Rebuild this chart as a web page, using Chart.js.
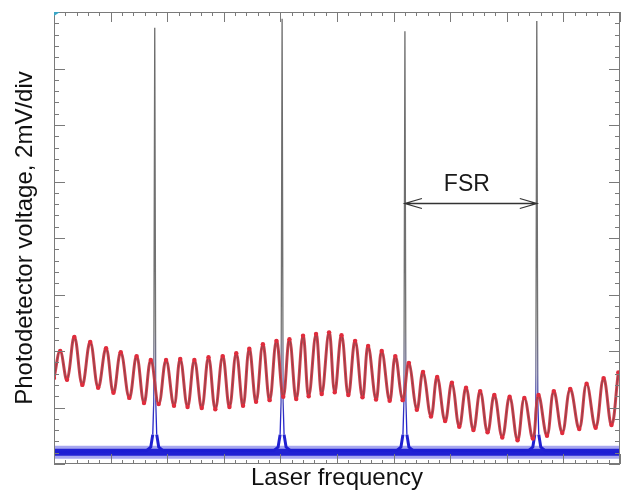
<!DOCTYPE html>
<html>
<head>
<meta charset="utf-8">
<script src="https://cdn.jsdelivr.net/npm/chart.js@4.4.1/dist/chart.umd.min.js"></script>
<style>
  html, body { margin: 0; padding: 0; background: #fff; }
  #wrap { width: 624px; height: 493px; }
</style>
</head>
<body>
<div id="wrap"><canvas id="scan"></canvas></div>
<script>
// x in horizontal divisions (0..10), y in vertical divisions of 2 mV (0..8)

// red trace: at its peaks and troughs
const redX = [0.00, 0.11, 0.23, 0.36, 0.50, 0.64, 0.78, 0.92, 1.05, 1.18,
              1.33, 1.46, 1.59, 1.71, 1.85, 1.98, 2.12, 2.23, 2.36, 2.48,
              2.61, 2.73, 2.85, 2.98, 3.10, 3.22, 3.34, 3.45, 3.57, 3.69,
              3.81, 3.93, 4.05, 4.16, 4.28, 4.40, 4.50, 4.63, 4.73, 4.86,
              4.96, 5.08, 5.20, 5.32, 5.45, 5.55, 5.69, 5.79, 5.93, 6.03,
              6.16, 6.27, 6.41, 6.52, 6.66, 6.77, 6.91, 7.03, 7.16, 7.28,
              7.41, 7.53, 7.66, 7.78, 7.92, 8.05, 8.19, 8.31, 8.46, 8.56,
              8.71, 8.83, 8.98, 9.12, 9.28, 9.41, 9.57, 9.71, 9.85, 9.97];
const redY = [1.52, 2.00, 1.49, 2.25, 1.40, 2.16, 1.35, 2.05, 1.26, 1.98,
              1.17, 1.91, 1.08, 1.84, 1.06, 1.84, 1.03, 1.86, 1.01, 1.84,
              0.99, 1.89, 0.97, 1.91, 1.01, 1.96, 1.03, 2.04, 1.10, 2.12,
              1.13, 2.18, 1.19, 2.21, 1.15, 2.27, 1.20, 2.30, 1.24, 2.33,
              1.27, 2.28, 1.22, 2.18, 1.18, 2.09, 1.14, 2.00, 1.12, 1.91,
              1.13, 1.79, 0.96, 1.63, 0.84, 1.54, 0.76, 1.44, 0.66, 1.35,
              0.60, 1.29, 0.56, 1.22, 0.47, 1.19, 0.42, 1.17, 0.45, 1.22,
              0.50, 1.29, 0.55, 1.33, 0.62, 1.42, 0.64, 1.52, 0.69, 1.62];

// blue trace: flat noisy floor with four transmission peaks
const baseLevel = 0.21;
const peakX = [1.78, 4.03, 6.20, 8.53];
const peakTop = [7.72, 7.88, 7.66, 7.84];
const skirtDx = [-0.14, -0.07, -0.035, -0.018, 0.018, 0.035, 0.07, 0.14];
const skirtY = [0.24, 0.30, 0.52, 1.10, 1.10, 0.52, 0.30, 0.24];

// FSR marker, between the third and fourth peak
const fsrLevel = 4.62;
const fsrTextLevel = 4.94;

const FONT = "'Liberation Sans', Arial, sans-serif";

function bluePoints() {
  const pts = [{ x: 0, y: baseLevel }];
  peakX.forEach((px, i) => {
    skirtDx.forEach((dx, k) => {
      if (k === skirtDx.length / 2) pts.push({ x: px, y: peakTop[i] });
      pts.push({ x: px + dx, y: skirtY[k] });
    });
  });
  pts.push({ x: 10, y: baseLevel });
  return pts;
}

const redPoints = redX.map((x, i) => ({ x: x, y: redY[i] }));
const floorPoints = [{ x: 0, y: baseLevel }, { x: 10, y: baseLevel }];

function peakColor(ctx) {
  const chart = ctx.chart;
  const a = chart.chartArea;
  if (!a) return '#2020c8';
  const g = chart.ctx.createLinearGradient(0, a.bottom, 0, a.top);
  g.addColorStop(0, '#1818d8');
  g.addColorStop(0.1, '#2828c8');
  g.addColorStop(0.2, '#6a6a9a');
  g.addColorStop(0.3, '#747474');
  g.addColorStop(1, '#6a6a6a');
  return g;
}

// frame with inward ticks on all four sides
const frameTicks = {
  id: 'frameTicks',
  afterDatasetsDraw(chart) {
    const { ctx, chartArea: a, scales: { x, y } } = chart;
    ctx.save();
    ctx.strokeStyle = '#7a7a7a';
    ctx.lineWidth = 1;
    ctx.strokeRect(a.left + 0.5, a.top + 0.5, a.right - a.left - 1, a.bottom - a.top - 1);
    ctx.beginPath();
    for (let i = 0; i <= 50; i++) {
      const px = Math.round(x.getPixelForValue(i / 5)) + 0.5;
      const len = i % 5 === 0 ? 10 : 4;
      ctx.moveTo(px, a.top); ctx.lineTo(px, a.top + len);
      ctx.moveTo(px, a.bottom); ctx.lineTo(px, a.bottom - len);
    }
    for (let i = 0; i <= 40; i++) {
      const py = Math.round(y.getPixelForValue(i / 5)) + 0.5;
      const len = i % 5 === 0 ? 11 : 5;
      ctx.moveTo(a.left, py); ctx.lineTo(a.left + len, py);
      ctx.moveTo(a.right, py); ctx.lineTo(a.right - len, py);
    }
    ctx.stroke();
    // little cyan mark in the corner of the scope frame
    ctx.fillStyle = '#3aa6c6';
    ctx.beginPath();
    ctx.moveTo(a.left, a.top); ctx.lineTo(a.left + 6, a.top); ctx.lineTo(a.left, a.top + 4);
    ctx.fill();
    ctx.restore();
  }
};

const fsrArrow = {
  id: 'fsrArrow',
  afterDatasetsDraw(chart) {
    const { ctx, scales: { x, y } } = chart;
    const x1 = x.getPixelForValue(peakX[2]);
    const x2 = x.getPixelForValue(peakX[3]);
    const yy = Math.round(y.getPixelForValue(fsrLevel)) + 0.5;
    ctx.save();
    ctx.strokeStyle = '#333';
    ctx.lineWidth = 1.3;
    ctx.beginPath();
    ctx.moveTo(x1, yy); ctx.lineTo(x2, yy);
    ctx.moveTo(x1 + 17, yy - 5); ctx.lineTo(x1, yy); ctx.lineTo(x1 + 17, yy + 5);
    ctx.moveTo(x2 - 17, yy - 5); ctx.lineTo(x2, yy); ctx.lineTo(x2 - 17, yy + 5);
    ctx.stroke();
    ctx.fillStyle = '#1a1a1a';
    ctx.font = '23px ' + FONT;
    ctx.textAlign = 'center';
    ctx.textBaseline = 'middle';
    ctx.fillText('FSR', (x1 + x2) / 2 - 4, y.getPixelForValue(fsrTextLevel));
    ctx.restore();
  }
};

const scan = new Chart(document.getElementById('scan'), {
  type: 'line',
  data: {
    datasets: [
      {
        label: 'cavity fringes',
        data: redPoints,
        borderColor: 'rgba(90,70,70,0.55)',
        borderWidth: 1,
        pointRadius: 2.2,
        pointBorderWidth: 0,
        pointBackgroundColor: '#e02c3c',
        tension: 0.4,
        order: 1
      },
      {
        label: 'cavity fringes band',
        data: redPoints,
        borderColor: '#d2404e',
        borderWidth: 3,
        pointRadius: 0,
        tension: 0.4,
        order: 2
      },
      {
        label: 'transmission',
        data: bluePoints(),
        borderColor: peakColor,
        borderWidth: 1.3,
        pointRadius: 0,
        tension: 0,
        segment: {
          borderWidth: (c) => (c.p0.parsed.y < 0.6 && c.p1.parsed.y < 0.6 ? 3 : 1.3)
        },
        order: 3
      },
      {
        label: 'transmission floor',
        data: floorPoints,
        borderColor: 'rgba(36,36,215,0.4)',
        borderWidth: 13,
        borderCapStyle: 'butt',
        pointRadius: 0,
        order: 5
      },
      {
        label: 'transmission floor core',
        data: floorPoints,
        borderColor: '#2020d4',
        borderWidth: 7,
        borderCapStyle: 'butt',
        pointRadius: 0,
        order: 4
      }
    ]
  },
  options: {
    responsive: true,
    maintainAspectRatio: false,
    animation: false,
    layout: { padding: { top: 12, right: 4, bottom: 0, left: 11 } },
    plugins: { legend: { display: false }, tooltip: { enabled: false } },
    scales: {
      x: {
        type: 'linear', min: 0, max: 10,
        ticks: { display: false },
        grid: { display: false },
        border: { display: false },
        title: { display: true, text: 'Laser frequency', color: '#111', padding: 0,
                 font: { family: FONT, size: 24 } },
        afterFit(s) { s.height = 29; }
      },
      y: {
        min: 0, max: 8,
        ticks: { display: false },
        grid: { display: false },
        border: { display: false },
        title: { display: true, text: 'Photodetector voltage, 2mV/div', color: '#111', padding: 0,
                 font: { family: FONT, size: 24 } },
        afterFit(s) { s.width = 43; }
      }
    }
  },
  plugins: [frameTicks, fsrArrow]
});
</script>
</body>
</html>
